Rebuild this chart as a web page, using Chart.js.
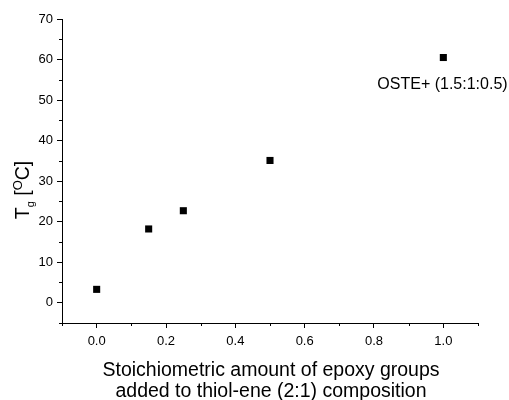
<!DOCTYPE html>
<html>
<head>
<meta charset="utf-8">
<script src="https://cdn.jsdelivr.net/npm/chart.js@4/dist/chart.umd.min.js"></script>
<style>
  body { margin: 0; background: #fff; }
</style>
</head>
<body>
<canvas id="chart" width="509" height="400"></canvas>
<script>
let epoxyAmount = [0.0, 0.15, 0.25, 0.5, 1.0];
let tgValues = [3.3, 18.2, 22.7, 35.1, 60.5];
let xTitleLines = ['Stoichiometric amount of epoxy groups', 'added to thiol-ene (2:1) composition'];
let pointNote = 'OSTE+ (1.5:1:0.5)';

const FONT = '"Liberation Sans", Arial, sans-serif';

// minor ticks + custom titles (sub/superscript on the y title)
const extras = {
    id: 'extras',
    afterDraw(chart) {
        const ctx = chart.ctx;
        const xs = chart.scales.x, ys = chart.scales.y;
        ctx.save();
        ctx.strokeStyle = '#000';
        ctx.lineWidth = 1;
        ctx.beginPath();
        for (let v = -0.1; v <= 1.1001; v += 0.2) {
            const px = Math.round(xs.getPixelForValue(v)) + 0.5;
            ctx.moveTo(px, ys.bottom);
            ctx.lineTo(px, ys.bottom + 3);
        }
        for (let v = -5; v <= 65; v += 10) {
            const py = Math.round(ys.getPixelForValue(v)) + 0.5;
            ctx.moveTo(xs.left, py);
            ctx.lineTo(xs.left - 3, py);
        }
        ctx.stroke();

        ctx.fillStyle = '#000';
        ctx.textAlign = 'center';
        ctx.textBaseline = 'alphabetic';
        ctx.font = '19.5px ' + FONT;
        ctx.fillText(xTitleLines[0], 271, 376);
        ctx.fillText(xTitleLines[1], 271, 397);

        // annotation next to the last point
        ctx.textAlign = 'left';
        ctx.font = '16px ' + FONT;
        const nx = xs.getPixelForValue(epoxyAmount[4]);
        const ny = ys.getPixelForValue(tgValues[4]);
        ctx.fillText(pointNote, nx - 66, ny + 31);

        // y title: T_g [°C]
        ctx.translate(29, 190);
        ctx.rotate(-Math.PI / 2);
        const parts = [
            { t: 'T', f: '19.5px', dy: 0 },
            { t: 'g', f: '11px', dy: 5 },
            { t: ' [', f: '19.5px', dy: 0 },
            { t: 'O', f: '13px', dy: -7 },
            { t: 'C]', f: '19.5px', dy: 0 }
        ];
        let total = 0;
        parts.forEach(p => { ctx.font = p.f + ' ' + FONT; p.w = ctx.measureText(p.t).width; total += p.w; });
        let x = -total / 2;
        parts.forEach(p => {
            ctx.font = p.f + ' ' + FONT;
            ctx.fillText(p.t, x, p.dy);
            x += p.w;
        });
        ctx.restore();
    }
};

new Chart(document.getElementById('chart'), {
    type: 'scatter',
    data: {
        datasets: [{
            label: 'Tg',
            data: epoxyAmount.map((v, i) => ({ x: v, y: tgValues[i] })),
            pointStyle: 'rect',
            pointRadius: 5,
            pointHoverRadius: 5,
            backgroundColor: '#000',
            borderColor: '#000',
            borderWidth: 0
        }]
    },
    options: {
        responsive: false,
        animation: false,
        layout: { padding: { top: 19, right: 31, left: 0, bottom: 0 } },
        plugins: { legend: { display: false }, tooltip: { enabled: false } },
        scales: {
            x: {
                type: 'linear',
                min: -0.1,
                max: 1.1,
                afterBuildTicks: (scale) => {
                    scale.ticks = [0, 0.2, 0.4, 0.6, 0.8, 1.0].map(v => ({ value: v }));
                },
                afterFit: (scale) => { scale.height = 77; },
                border: { color: '#000', width: 1 },
                grid: { drawOnChartArea: false, drawTicks: true, tickLength: 5, color: '#000' },
                ticks: {
                    color: '#000',
                    padding: 6,
                    font: { family: FONT, size: 13 },
                    callback: (v) => v.toFixed(1)
                }
            },
            y: {
                min: -5,
                max: 70,
                afterBuildTicks: (scale) => {
                    scale.ticks = [0, 10, 20, 30, 40, 50, 60, 70].map(v => ({ value: v }));
                },
                afterFit: (scale) => { scale.width = 62; },
                border: { color: '#000', width: 1 },
                grid: { drawOnChartArea: false, drawTicks: true, tickLength: 5, color: '#000' },
                ticks: {
                    color: '#000',
                    padding: 4,
                    font: { family: FONT, size: 13 },
                    callback: (v) => String(v)
                }
            }
        }
    },
    plugins: [extras]
});
</script>
</body>
</html>
